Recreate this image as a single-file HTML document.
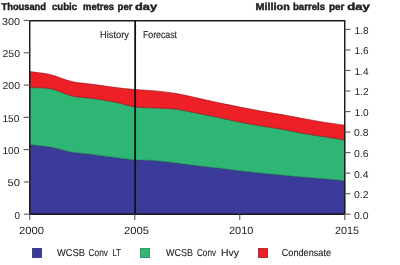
<!DOCTYPE html>
<html><head><meta charset="utf-8"><style>
html,body{margin:0;padding:0;background:#fff;}
svg{display:block;font-family:"Liberation Sans", sans-serif;text-rendering:geometricPrecision;will-change:transform;}
</style></head><body>
<svg width="400" height="265" viewBox="0 0 400 265">
<path d="M29.75,144.50 C33.25,144.92 43.75,145.75 50.75,147.00 C57.75,148.25 64.75,150.77 71.75,152.00 C78.75,153.23 85.75,153.53 92.75,154.40 C99.75,155.27 106.75,156.31 113.75,157.20 C120.75,158.09 127.75,159.18 134.75,159.75 C141.75,160.32 148.75,160.04 155.75,160.60 C162.75,161.16 169.75,162.23 176.75,163.10 C183.75,163.97 190.75,164.97 197.75,165.80 C204.75,166.63 211.75,167.27 218.75,168.10 C225.75,168.93 232.75,169.97 239.75,170.80 C246.75,171.63 253.75,172.40 260.75,173.10 C267.75,173.80 274.75,174.33 281.75,175.00 C288.75,175.67 295.75,176.47 302.75,177.10 C309.75,177.72 316.75,178.17 323.75,178.75 C330.75,179.33 341.25,180.29 344.75,180.60 L344.75,214.20 L29.75,214.20 Z" fill="#3a3a98" stroke="#25256a" stroke-width="0.6"/>
<path d="M29.75,87.55 C33.25,87.74 43.75,87.31 50.75,88.70 C57.75,90.09 64.75,94.28 71.75,95.90 C78.75,97.52 85.75,97.42 92.75,98.40 C99.75,99.38 106.75,100.40 113.75,101.80 C120.75,103.20 127.75,105.78 134.75,106.80 C141.75,107.82 148.75,107.50 155.75,107.90 C162.75,108.30 169.75,108.30 176.75,109.20 C183.75,110.10 190.75,111.92 197.75,113.30 C204.75,114.68 211.75,116.03 218.75,117.50 C225.75,118.97 232.75,120.71 239.75,122.10 C246.75,123.49 253.75,124.67 260.75,125.85 C267.75,127.03 274.75,127.96 281.75,129.20 C288.75,130.44 295.75,132.07 302.75,133.30 C309.75,134.53 316.75,135.48 323.75,136.60 C330.75,137.72 341.25,139.43 344.75,140.00 L344.75,180.60 C341.25,180.29 330.75,179.33 323.75,178.75 C316.75,178.17 309.75,177.72 302.75,177.10 C295.75,176.47 288.75,175.67 281.75,175.00 C274.75,174.33 267.75,173.80 260.75,173.10 C253.75,172.40 246.75,171.63 239.75,170.80 C232.75,169.97 225.75,168.93 218.75,168.10 C211.75,167.27 204.75,166.63 197.75,165.80 C190.75,164.97 183.75,163.97 176.75,163.10 C169.75,162.23 162.75,161.16 155.75,160.60 C148.75,160.04 141.75,160.32 134.75,159.75 C127.75,159.18 120.75,158.09 113.75,157.20 C106.75,156.31 99.75,155.27 92.75,154.40 C85.75,153.53 78.75,153.23 71.75,152.00 C64.75,150.77 57.75,148.25 50.75,147.00 C43.75,145.75 33.25,144.92 29.75,144.50 Z" fill="#2fb574" stroke="#1f7a4e" stroke-width="0.6"/>
<path d="M29.75,71.55 C33.25,72.08 43.75,73.03 50.75,74.70 C57.75,76.37 64.75,79.95 71.75,81.55 C78.75,83.15 85.75,83.34 92.75,84.30 C99.75,85.26 106.75,86.42 113.75,87.30 C120.75,88.17 127.75,88.95 134.75,89.55 C141.75,90.15 148.75,90.23 155.75,90.90 C162.75,91.57 169.75,92.35 176.75,93.55 C183.75,94.75 190.75,96.55 197.75,98.10 C204.75,99.65 211.75,101.37 218.75,102.85 C225.75,104.33 232.75,105.62 239.75,107.00 C246.75,108.38 253.75,109.83 260.75,111.10 C267.75,112.37 274.75,113.37 281.75,114.60 C288.75,115.83 295.75,117.23 302.75,118.50 C309.75,119.77 316.75,121.08 323.75,122.20 C330.75,123.32 341.25,124.70 344.75,125.20 L344.75,140.00 C341.25,139.43 330.75,137.72 323.75,136.60 C316.75,135.48 309.75,134.53 302.75,133.30 C295.75,132.07 288.75,130.44 281.75,129.20 C274.75,127.96 267.75,127.03 260.75,125.85 C253.75,124.67 246.75,123.49 239.75,122.10 C232.75,120.71 225.75,118.97 218.75,117.50 C211.75,116.03 204.75,114.68 197.75,113.30 C190.75,111.92 183.75,110.10 176.75,109.20 C169.75,108.30 162.75,108.30 155.75,107.90 C148.75,107.50 141.75,107.82 134.75,106.80 C127.75,105.78 120.75,103.20 113.75,101.80 C106.75,100.40 99.75,99.38 92.75,98.40 C85.75,97.42 78.75,97.52 71.75,95.90 C64.75,94.28 57.75,90.09 50.75,88.70 C43.75,87.31 33.25,87.74 29.75,87.55 Z" fill="#ed1f27" stroke="#8a1018" stroke-width="0.6"/>
<path d="M29.75,20.8 H344.75 V214.2 H29.75 Z" fill="none" stroke="#1a1a1a" stroke-width="1.45"/>
<path d="M135.15,20.8 V214.2" stroke="#111" stroke-width="1.8"/>
<path d="M23.8,214.20 H29.75" stroke="#606060" stroke-width="1.15"/>
<path d="M23.8,181.92 H29.75" stroke="#606060" stroke-width="1.15"/>
<path d="M23.8,149.63 H29.75" stroke="#606060" stroke-width="1.15"/>
<path d="M23.8,117.35 H29.75" stroke="#606060" stroke-width="1.15"/>
<path d="M23.8,85.07 H29.75" stroke="#606060" stroke-width="1.15"/>
<path d="M23.8,52.78 H29.75" stroke="#606060" stroke-width="1.15"/>
<path d="M23.8,20.50 H29.75" stroke="#606060" stroke-width="1.15"/>
<path d="M344.75,214.20 H350.5" stroke="#606060" stroke-width="1.15"/>
<path d="M344.75,193.67 H350.5" stroke="#606060" stroke-width="1.15"/>
<path d="M344.75,173.14 H350.5" stroke="#606060" stroke-width="1.15"/>
<path d="M344.75,152.61 H350.5" stroke="#606060" stroke-width="1.15"/>
<path d="M344.75,132.08 H350.5" stroke="#606060" stroke-width="1.15"/>
<path d="M344.75,111.55 H350.5" stroke="#606060" stroke-width="1.15"/>
<path d="M344.75,91.02 H350.5" stroke="#606060" stroke-width="1.15"/>
<path d="M344.75,70.49 H350.5" stroke="#606060" stroke-width="1.15"/>
<path d="M344.75,49.96 H350.5" stroke="#606060" stroke-width="1.15"/>
<path d="M344.75,29.42 H350.5" stroke="#606060" stroke-width="1.15"/>
<path d="M29.75,214.2 V220" stroke="#606060" stroke-width="1.15"/>
<path d="M134.75,214.2 V220" stroke="#606060" stroke-width="1.15"/>
<path d="M239.75,214.2 V220" stroke="#606060" stroke-width="1.15"/>
<path d="M344.75,214.2 V220" stroke="#606060" stroke-width="1.15"/>
<text x="1.50" y="9.85" font-size="10" font-weight="bold" fill="#222" stroke="#222" stroke-width="0.45" textLength="44.50" lengthAdjust="spacingAndGlyphs">Thousand</text>
<text x="52.00" y="9.85" font-size="10" font-weight="bold" fill="#222" stroke="#222" stroke-width="0.45" textLength="25.00" lengthAdjust="spacingAndGlyphs">cubic</text>
<text x="83.00" y="9.85" font-size="10" font-weight="bold" fill="#222" stroke="#222" stroke-width="0.45" textLength="31.00" lengthAdjust="spacingAndGlyphs">metres</text>
<text x="117.50" y="9.85" font-size="10" font-weight="bold" fill="#222" stroke="#222" stroke-width="0.45" textLength="15.00" lengthAdjust="spacingAndGlyphs">per</text>
<text x="135.00" y="9.85" font-size="10" font-weight="bold" fill="#222" stroke="#222" stroke-width="0.45" textLength="22.00" lengthAdjust="spacingAndGlyphs">day</text>
<text x="255.50" y="9.85" font-size="10" font-weight="bold" fill="#222" stroke="#222" stroke-width="0.45" textLength="34.30" lengthAdjust="spacingAndGlyphs">Million</text>
<text x="293.00" y="9.85" font-size="10" font-weight="bold" fill="#222" stroke="#222" stroke-width="0.45" textLength="32.00" lengthAdjust="spacingAndGlyphs">barrels</text>
<text x="329.00" y="9.85" font-size="10" font-weight="bold" fill="#222" stroke="#222" stroke-width="0.45" textLength="15.50" lengthAdjust="spacingAndGlyphs">per</text>
<text x="347.20" y="9.85" font-size="10" font-weight="bold" fill="#222" stroke="#222" stroke-width="0.45" textLength="22.60" lengthAdjust="spacingAndGlyphs">day</text>
<text x="100.00" y="37.60" font-size="10" font-weight="normal" fill="#1e1e1e" stroke="#1e1e1e" stroke-width="0.12" textLength="29.00" lengthAdjust="spacingAndGlyphs">History</text>
<text x="143.00" y="37.60" font-size="10" font-weight="normal" fill="#1e1e1e" stroke="#1e1e1e" stroke-width="0.12" textLength="34.00" lengthAdjust="spacingAndGlyphs">Forecast</text>
<text x="57.00" y="256.00" font-size="10" font-weight="normal" fill="#1e1e1e" stroke="#1e1e1e" stroke-width="0.12" textLength="28.00" lengthAdjust="spacingAndGlyphs">WCSB</text>
<text x="88.50" y="256.00" font-size="10" font-weight="normal" fill="#1e1e1e" stroke="#1e1e1e" stroke-width="0.12" textLength="19.50" lengthAdjust="spacingAndGlyphs">Conv</text>
<text x="112.60" y="256.00" font-size="10" font-weight="normal" fill="#1e1e1e" stroke="#1e1e1e" stroke-width="0.12" textLength="8.40" lengthAdjust="spacingAndGlyphs">LT</text>
<text x="166.00" y="256.00" font-size="10" font-weight="normal" fill="#1e1e1e" stroke="#1e1e1e" stroke-width="0.12" textLength="27.00" lengthAdjust="spacingAndGlyphs">WCSB</text>
<text x="197.00" y="256.00" font-size="10" font-weight="normal" fill="#1e1e1e" stroke="#1e1e1e" stroke-width="0.12" textLength="19.00" lengthAdjust="spacingAndGlyphs">Conv</text>
<text x="221.00" y="256.00" font-size="10" font-weight="normal" fill="#1e1e1e" stroke="#1e1e1e" stroke-width="0.12" textLength="18.00" lengthAdjust="spacingAndGlyphs">Hvy</text>
<text x="281.75" y="256.00" font-size="10" font-weight="normal" fill="#1e1e1e" stroke="#1e1e1e" stroke-width="0.12" textLength="49.25" lengthAdjust="spacingAndGlyphs">Condensate</text>
<text x="19.00" y="233.55" font-size="10.5" font-weight="normal" fill="#1e1e1e" stroke="#1e1e1e" stroke-width="0.0" textLength="25.00" lengthAdjust="spacingAndGlyphs">2000</text>
<text x="124.00" y="233.55" font-size="10.5" font-weight="normal" fill="#1e1e1e" stroke="#1e1e1e" stroke-width="0.0" textLength="25.00" lengthAdjust="spacingAndGlyphs">2005</text>
<text x="229.00" y="233.55" font-size="10.5" font-weight="normal" fill="#1e1e1e" stroke="#1e1e1e" stroke-width="0.0" textLength="24.50" lengthAdjust="spacingAndGlyphs">2010</text>
<text x="335.00" y="233.55" font-size="10.5" font-weight="normal" fill="#1e1e1e" stroke="#1e1e1e" stroke-width="0.0" textLength="24.00" lengthAdjust="spacingAndGlyphs">2015</text>
<text x="14.50" y="218.60" font-size="10" font-weight="normal" fill="#1e1e1e" stroke="#1e1e1e" stroke-width="0.0" textLength="5.50" lengthAdjust="spacingAndGlyphs">0</text>
<text x="7.50" y="186.32" font-size="10" font-weight="normal" fill="#1e1e1e" stroke="#1e1e1e" stroke-width="0.0" textLength="12.50" lengthAdjust="spacingAndGlyphs">50</text>
<text x="2.40" y="154.03" font-size="10" font-weight="normal" fill="#1e1e1e" stroke="#1e1e1e" stroke-width="0.0" textLength="17.00" lengthAdjust="spacingAndGlyphs">100</text>
<text x="2.40" y="121.75" font-size="10" font-weight="normal" fill="#1e1e1e" stroke="#1e1e1e" stroke-width="0.0" textLength="17.00" lengthAdjust="spacingAndGlyphs">150</text>
<text x="2.50" y="89.47" font-size="10" font-weight="normal" fill="#1e1e1e" stroke="#1e1e1e" stroke-width="0.0" textLength="17.50" lengthAdjust="spacingAndGlyphs">200</text>
<text x="2.50" y="57.18" font-size="10" font-weight="normal" fill="#1e1e1e" stroke="#1e1e1e" stroke-width="0.0" textLength="17.50" lengthAdjust="spacingAndGlyphs">250</text>
<text x="2.00" y="24.90" font-size="10" font-weight="normal" fill="#1e1e1e" stroke="#1e1e1e" stroke-width="0.0" textLength="18.00" lengthAdjust="spacingAndGlyphs">300</text>
<text x="354.00" y="218.60" font-size="10" font-weight="normal" fill="#1e1e1e" stroke="#1e1e1e" stroke-width="0.0" textLength="14.50" lengthAdjust="spacingAndGlyphs">0.0</text>
<text x="354.00" y="198.07" font-size="10" font-weight="normal" fill="#1e1e1e" stroke="#1e1e1e" stroke-width="0.0" textLength="14.50" lengthAdjust="spacingAndGlyphs">0.2</text>
<text x="354.00" y="177.54" font-size="10" font-weight="normal" fill="#1e1e1e" stroke="#1e1e1e" stroke-width="0.0" textLength="14.50" lengthAdjust="spacingAndGlyphs">0.4</text>
<text x="354.00" y="157.01" font-size="10" font-weight="normal" fill="#1e1e1e" stroke="#1e1e1e" stroke-width="0.0" textLength="14.50" lengthAdjust="spacingAndGlyphs">0.6</text>
<text x="354.00" y="136.48" font-size="10" font-weight="normal" fill="#1e1e1e" stroke="#1e1e1e" stroke-width="0.0" textLength="14.50" lengthAdjust="spacingAndGlyphs">0.8</text>
<text x="354.50" y="115.95" font-size="10" font-weight="normal" fill="#1e1e1e" stroke="#1e1e1e" stroke-width="0.0" textLength="14.00" lengthAdjust="spacingAndGlyphs">1.0</text>
<text x="354.50" y="95.42" font-size="10" font-weight="normal" fill="#1e1e1e" stroke="#1e1e1e" stroke-width="0.0" textLength="14.00" lengthAdjust="spacingAndGlyphs">1.2</text>
<text x="354.50" y="74.89" font-size="10" font-weight="normal" fill="#1e1e1e" stroke="#1e1e1e" stroke-width="0.0" textLength="14.00" lengthAdjust="spacingAndGlyphs">1.4</text>
<text x="354.50" y="54.36" font-size="10" font-weight="normal" fill="#1e1e1e" stroke="#1e1e1e" stroke-width="0.0" textLength="14.00" lengthAdjust="spacingAndGlyphs">1.6</text>
<text x="354.50" y="33.82" font-size="10" font-weight="normal" fill="#1e1e1e" stroke="#1e1e1e" stroke-width="0.0" textLength="14.00" lengthAdjust="spacingAndGlyphs">1.8</text>
<rect x="32.3" y="248.3" width="9.4" height="9.4" fill="#3a3a98" stroke="#25256a" stroke-width="0.6"/>
<rect x="140.3" y="248.3" width="9.4" height="9.4" fill="#2fb574" stroke="#1f7a4e" stroke-width="0.6"/>
<rect x="258.3" y="248.3" width="9.4" height="9.4" fill="#ed1f27" stroke="#8a1018" stroke-width="0.6"/>
</svg></body></html>
